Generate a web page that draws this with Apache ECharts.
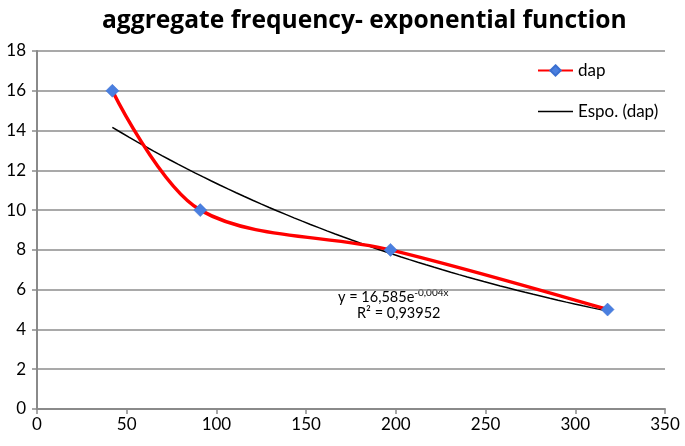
<!DOCTYPE html>
<html>
<head>
<meta charset="utf-8">
<script src="https://cdn.jsdelivr.net/npm/echarts@6/dist/echarts.min.js"></script>
<style>
html,body{margin:0;padding:0;background:#fff;}
#c{width:685px;height:446px;}
</style>
</head>
<body>
<div id="c"></div>
<script>
// ---- data ----
var titleText = 'aggregate frequency- exponential function';
var seriesName = 'dap';
var trendName = 'Espo. (dap)';
var xValues = [42, 91, 197, 318];
var yValues = [16, 10, 8, 5];
var xTicks = [0, 50, 100, 150, 200, 250, 300, 350];
var yTicks = [0, 2, 4, 6, 8, 10, 12, 14, 16, 18];
var equationText = ['y = 16,585e', '-0,004x'];
var r2Text = 'R² = 0,93952';

// ---- exponential trendline (least squares on ln y), as a spreadsheet trendline does ----
function expFit(xs, ys) {
  var n = xs.length, mx = 0, my = 0;
  var ly = ys.map(function (v) { return Math.log(v); });
  for (var i = 0; i < n; i++) { mx += xs[i]; my += ly[i]; }
  mx /= n; my /= n;
  var sxx = 0, sxy = 0;
  for (var j = 0; j < n; j++) { sxx += (xs[j] - mx) * (xs[j] - mx); sxy += (xs[j] - mx) * (ly[j] - my); }
  var b = sxy / sxx, a = Math.exp(my - b * mx);
  return function (x) { return a * Math.exp(b * x); };
}
var fit = expFit(xValues, yValues);
var xmin = Math.min.apply(null, xValues), xmax = Math.max.apply(null, xValues);
var trendData = [];
for (var k = 0; k <= 60; k++) {
  var xx = xmin + (xmax - xmin) * k / 60;
  trendData.push([xx, fit(xx)]);
}
var mainData = xValues.map(function (x, i) { return [x, yValues[i]]; });

var FONT = 'Lato';
var chart = echarts.init(document.getElementById('c'));
chart.setOption({
  animation: false,
  backgroundColor: '#fff',
  title: {
    text: titleText,
    left: 97, top: 3,
    textStyle: { fontFamily: 'Open Sans', fontWeight: 'bold', fontSize: 24.6, color: '#000' }
  },
  legend: {
    orient: 'vertical',
    left: 532, top: 57,
    itemGap: 24,
    itemWidth: 35, itemHeight: 13,
    textStyle: { fontFamily: FONT, fontSize: 17, color: '#000' },
    data: [
      { name: seriesName },
      { name: trendName, icon: 'path://M0,0 L100,0 L100,4.5 L0,4.5 Z', itemStyle: { color: '#000' } }
    ]
  },
  grid: { left: 37, right: 20, top: 51, bottom: 37, containLabel: false },
  xAxis: {
    type: 'value', min: xTicks[0], max: xTicks[xTicks.length - 1], interval: 50,
    axisLine: { lineStyle: { color: '#8a8a8a', width: 2 } },
    axisTick: { show: true, length: 5, lineStyle: { color: '#8a8a8a', width: 1.5 } },
    axisLabel: { fontFamily: FONT, fontSize: 17, color: '#000', margin: 7 },
    splitLine: { show: false }
  },
  yAxis: {
    type: 'value', min: yTicks[0], max: yTicks[yTicks.length - 1], interval: 2,
    axisLine: { show: true, lineStyle: { color: '#8a8a8a', width: 2 } },
    axisTick: { show: true, length: 5, lineStyle: { color: '#8a8a8a', width: 1.5 } },
    axisLabel: { fontFamily: FONT, fontSize: 17, color: '#000', margin: 11 },
    splitLine: { show: true, lineStyle: { color: '#8c8c8c', width: 1.5 } }
  },
  series: [
    {
      name: seriesName, type: 'line', data: mainData,
      smooth: 0.33,
      lineStyle: { color: '#ff0000', width: 3.5 },
      itemStyle: { color: '#4a7fe0', borderColor: '#3a6fd0', borderWidth: 0.5 },
      symbol: 'diamond', symbolSize: 13, z: 3
    },
    {
      name: trendName, type: 'line', data: trendData,
      smooth: false, symbol: 'none',
      lineStyle: { color: '#000', width: 1.5 },
      itemStyle: { color: '#000' }, z: 2
    }
  ],
  graphic: [
    {
      type: 'text', left: 338, top: 288,
      style: {
        rich: {
          b: { fontFamily: FONT, fontSize: 14.5, fill: '#000' },
          s: { fontFamily: FONT, fontSize: 10, fill: '#000', verticalAlign: 'top', padding: [0, 0, 8, 0] }
        },
        text: '{b|' + equationText[0] + '}{s|' + equationText[1] + '}'
      }
    },
    {
      type: 'text', left: 357, top: 306,
      style: { text: r2Text, font: '14.5px ' + FONT, fill: '#000' }
    }
  ]
});
</script>
</body>
</html>
